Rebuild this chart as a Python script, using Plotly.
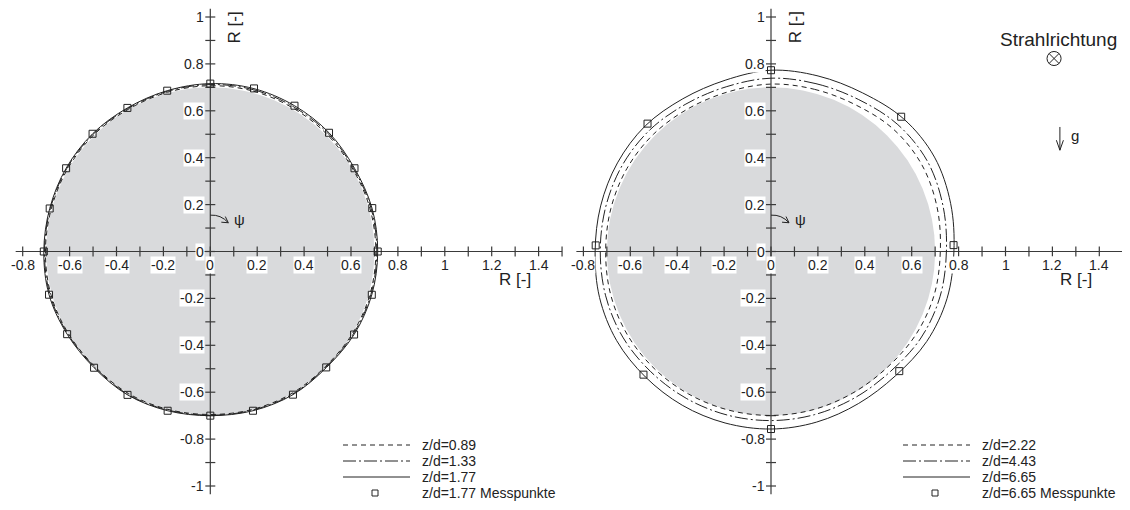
import numpy as np
import plotly.graph_objects as go

# the page body has an 8px margin, so the figure is drawn 8px in from the top-left corner
OFF = 8
W, H = 1130 - 2 * OFF, 510 - 2 * OFF
PX = 234.5                                          # pixels per unit R (same on both axes)
X0_L, X0_R, Y0 = 210.3 - OFF, 771.0 - OFF, 251.5 - OFF   # origins in figure pixels
SPLIT = 565 - OFF                                   # boundary between the two panels

FONT = "Liberation Sans, Arial, sans-serif"
INK = "#222222"
AXIS = "#3a3a3a"
GREY = "#d9dadc"

# ---------------- data ----------------
psi_deg = list(range(0, 360, 15))

# left panel, radius R over psi (clockwise from top)
r_left_089 = [0.707, 0.708, 0.706, 0.705, 0.702, 0.705, 0.706, 0.705, 0.700, 0.694, 0.698, 0.697,
              0.695, 0.697, 0.699, 0.695, 0.699, 0.704, 0.703, 0.702, 0.703, 0.703, 0.700, 0.703]
r_left_133 = [0.712, 0.714, 0.712, 0.711, 0.706, 0.710, 0.710, 0.709, 0.704, 0.697, 0.702, 0.700,
              0.698, 0.700, 0.703, 0.698, 0.702, 0.708, 0.707, 0.706, 0.707, 0.707, 0.704, 0.707]
r_left_177 = [0.716, 0.719, 0.718, 0.716, 0.710, 0.714, 0.714, 0.713, 0.708, 0.700, 0.705, 0.703,
              0.700, 0.703, 0.706, 0.701, 0.705, 0.712, 0.710, 0.709, 0.710, 0.710, 0.707, 0.710]
r_left_mess = [0.716, 0.720, 0.718, 0.716, 0.710, 0.715, 0.714, 0.713, 0.708, 0.699, 0.705, 0.703,
               0.700, 0.703, 0.706, 0.701, 0.705, 0.712, 0.710, 0.709, 0.710, 0.710, 0.707, 0.710]

# right panel
r_right_222 = [0.714, 0.716, 0.722, 0.738, 0.742, 0.733, 0.722, 0.720, 0.712, 0.700, 0.697, 0.698,
               0.699, 0.700, 0.702, 0.705, 0.708, 0.708, 0.705, 0.707, 0.709, 0.708, 0.704, 0.705]
r_right_443 = [0.739, 0.741, 0.748, 0.765, 0.770, 0.759, 0.748, 0.746, 0.738, 0.722, 0.719, 0.720,
               0.721, 0.722, 0.723, 0.725, 0.730, 0.730, 0.728, 0.730, 0.733, 0.732, 0.726, 0.728]
r_right_665 = [0.773, 0.775, 0.781, 0.800, 0.805, 0.793, 0.780, 0.777, 0.767, 0.750, 0.748, 0.753,
               0.757, 0.757, 0.757, 0.757, 0.760, 0.757, 0.750, 0.752, 0.756, 0.758, 0.752, 0.756]
psi_right_mess = [0, 44, 88, 133, 180, 226, 272, 316]
r_right_mess = [0.773, 0.799, 0.779, 0.748, 0.757, 0.756, 0.748, 0.758]

r_nozzle = 0.70

x_tick_labels = [-0.8, -0.6, -0.4, -0.2, 0, 0.2, 0.4, 0.6, 0.8, 1, 1.2, 1.4]
y_tick_labels = [-1, -0.8, -0.6, -0.4, -0.2, 0, 0.2, 0.4, 0.6, 0.8, 1]
legend_left = ["z/d=0.89", "z/d=1.33", "z/d=1.77", "z/d=1.77 Messpunkte"]
legend_right = ["z/d=2.22", "z/d=4.43", "z/d=6.65", "z/d=6.65 Messpunkte"]

DASH = "5px,4px"
DASHDOT = "13px,3px,2px,3px"


def to_xy(psi, r, closed=True):
    p = np.radians(psi)
    x = np.asarray(r) * np.sin(p)
    y = np.asarray(r) * np.cos(p)
    if closed:
        x = np.append(x, x[0])
        y = np.append(y, y[0])
    return x, y


fig = go.Figure()
shapes, annos = [], []

panels = [
    ("x", "y", (r_left_089, r_left_133, r_left_177), (psi_deg, r_left_mess), legend_left, 0.0),
    ("x2", "y2", (r_right_222, r_right_443, r_right_665), (psi_right_mess, r_right_mess), legend_right, 560.0),
]

tk = 5 / PX
for xa, ya, curves, mess, leg, dx in panels:
    # nozzle cross-section
    shapes.append(dict(type="circle", xref=xa, yref=ya, x0=-r_nozzle, x1=r_nozzle,
                       y0=-r_nozzle, y1=r_nozzle, fillcolor=GREY, line_width=0, layer="below"))
    # axes crossing at the origin
    ax_line = dict(color=AXIS, width=1.2)
    shapes.append(dict(type="line", xref=xa, yref=ya, x0=-0.83, x1=1.5, y0=0, y1=0,
                       line=ax_line, layer="below"))
    shapes.append(dict(type="line", xref=xa, yref=ya, x0=0, x1=0, y0=-1.035, y1=1.035,
                       line=ax_line, layer="below"))
    for v in np.round(np.arange(-0.8, 1.51, 0.1), 1):
        shapes.append(dict(type="line", xref=xa, yref=ya, x0=v, x1=v, y0=-tk, y1=tk,
                           line=ax_line, layer="below"))
    for v in np.round(np.arange(-1.0, 1.01, 0.1), 1):
        shapes.append(dict(type="line", xref=xa, yref=ya, x0=-tk, x1=tk, y0=v, y1=v,
                           line=ax_line, layer="below"))
    for v in x_tick_labels:
        annos.append(dict(xref=xa, yref=ya, x=v, y=0, text=f"{v:g}", showarrow=False,
                          xanchor="center", yanchor="top", yshift=-4, bgcolor="white",
                          borderpad=0, font=dict(size=14, color=INK, family=FONT)))
    for v in y_tick_labels:
        annos.append(dict(xref=xa, yref=ya, x=0, y=v, text=f"{v:g}", showarrow=False,
                          xanchor="right", yanchor="middle", xshift=-5, bgcolor="white",
                          borderpad=0, font=dict(size=14, color=INK, family=FONT)))
    annos.append(dict(xref=xa, yref=ya, x=0.105, y=0.955, text="R [-]", textangle=-90,
                      showarrow=False, font=dict(size=17, color=INK, family=FONT)))
    annos.append(dict(xref=xa, yref=ya, x=1.30, y=-0.12, text="R [-]",
                      showarrow=False, font=dict(size=17, color=INK, family=FONT)))

    # psi arrow
    shapes.append(dict(type="path", xref=xa, yref=ya, layer="above",
                       path="M 0,0.155 Q 0.045,0.158 0.0768,0.1226",
                       line=dict(color=INK, width=1)))
    shapes.append(dict(type="path", xref=xa, yref=ya, layer="above",
                       path="M 0.064,0.149 L 0.0768,0.1226 L 0.047,0.125",
                       line=dict(color=INK, width=1)))
    annos.append(dict(xref=xa, yref=ya, x=0.125, y=0.137, text="ψ", showarrow=False,
                      font=dict(size=15, color=INK, family=FONT)))

    # curves
    styles = [DASH, DASHDOT, "solid"]
    for r, dash in zip(curves, styles):
        x, y = to_xy(psi_deg, r)
        fig.add_trace(go.Scatter(x=x, y=y, mode="lines", xaxis=xa, yaxis=ya,
                                 line=dict(color=INK, width=1, dash=dash, shape="spline",
                                           smoothing=1.0),
                                 showlegend=False, hoverinfo="skip"))
    mx, my = to_xy(mess[0], mess[1], closed=False)
    fig.add_trace(go.Scatter(x=mx, y=my, mode="markers", xaxis=xa, yaxis=ya,
                             marker=dict(symbol="square-open", size=7,
                                         color=INK, line=dict(width=1, color=INK)),
                             showlegend=False, hoverinfo="skip"))

    # legend drawn by hand (long line samples), page pixel rows
    rows = [445, 461, 477, 493]
    for i, (label, yy) in enumerate(zip(leg, rows)):
        yp = 1 - (yy - OFF) / H
        if i < 3:
            shapes.append(dict(type="line", xref="paper", yref="paper",
                               x0=(343 + dx - OFF) / W, x1=(410 + dx - OFF) / W, y0=yp, y1=yp,
                               line=dict(color=INK, width=1, dash=styles[i])))
        else:
            shapes.append(dict(type="rect", xref="paper", yref="paper",
                               x0=(372 + dx - OFF) / W, x1=(378 + dx - OFF) / W,
                               y0=yp - 3 / H, y1=yp + 3 / H,
                               line=dict(color=INK, width=1)))
        annos.append(dict(xref="paper", yref="paper", x=(420 + dx - OFF) / W, y=yp, text=label,
                          showarrow=False, xanchor="left", yanchor="middle",
                          font=dict(size=14, color=INK, family=FONT)))

# beam direction and gravity (right panel)
annos.append(dict(xref="x2", yref="y2", x=1.227, y=0.905, text="Strahlrichtung",
                  showarrow=False, font=dict(size=19, color=INK, family=FONT)))
cx, cy, cr = 1.207, 0.823, 0.03
shapes.append(dict(type="circle", xref="x2", yref="y2", x0=cx - cr, x1=cx + cr,
                   y0=cy - cr, y1=cy + cr, line=dict(color=INK, width=1)))
d = cr * 0.707
shapes.append(dict(type="path", xref="x2", yref="y2",
                   path=f"M {cx-d},{cy-d} L {cx+d},{cy+d} M {cx-d},{cy+d} L {cx+d},{cy-d}",
                   line=dict(color=INK, width=1)))
gx = 1.232
shapes.append(dict(type="path", xref="x2", yref="y2",
                   path=f"M {gx},0.531 L {gx},0.432 M {gx-0.015},0.4745 L {gx},0.432 L {gx+0.015},0.4745",
                   line=dict(color=INK, width=1)))
annos.append(dict(xref="x2", yref="y2", x=1.296, y=0.495, text="g", showarrow=False,
                  font=dict(size=15, color=INK, family=FONT)))

yrange = [-(H - Y0) / PX, Y0 / PX]
fig.update_layout(
    width=W, height=H, margin=dict(l=0, r=0, t=0, b=0),
    paper_bgcolor="white", plot_bgcolor="white",
    shapes=shapes, annotations=annos,
    xaxis=dict(domain=[0, SPLIT / W], range=[-X0_L / PX, (SPLIT - X0_L) / PX], visible=False),
    yaxis=dict(domain=[0, 1], range=yrange, visible=False),
    xaxis2=dict(domain=[SPLIT / W, 1], range=[(SPLIT - X0_R) / PX, (W - X0_R) / PX],
                anchor="y2", visible=False),
    yaxis2=dict(domain=[0, 1], range=yrange, anchor="x2", visible=False),
)

fig.write_html("out.html")
